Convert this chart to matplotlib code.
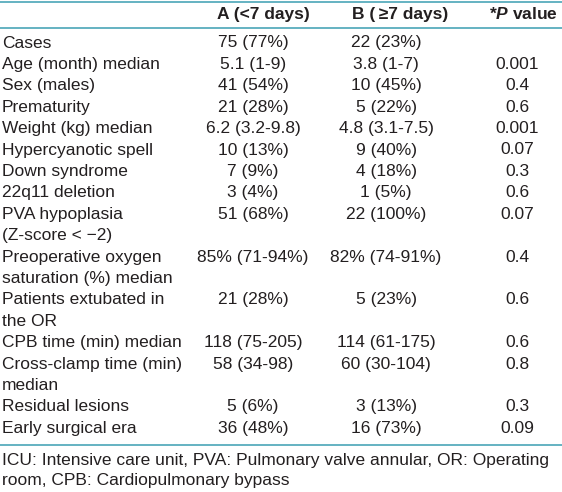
import matplotlib
matplotlib.use("Agg")
import matplotlib.pyplot as plt

plt.rcParams["font.family"] = ["Liberation Sans", "DejaVu Sans"]
plt.rcParams["mathtext.fontset"] = "custom"
plt.rcParams["mathtext.bfit"] = "Liberation Sans:italic:bold"
plt.rcParams["mathtext.rm"] = "Liberation Sans:bold"

# table contents
headers = ["A (<7 days)", "B (\u2009\u22657 days)", r"*$\mathbfit{P}$ value"]
labels = [
    "Cases",
    "Age (month) median",
    "Sex (males)",
    "Prematurity",
    "Weight (kg) median",
    "Hypercyanotic spell",
    "Down syndrome",
    "22q11 deletion",
    "PVA hypoplasia\n(Z-score < \u22122)",
    "Preoperative oxygen\nsaturation (%) median",
    "Patients extubated in\nthe OR",
    "CPB time (min) median",
    "Cross-clamp time (min)\nmedian",
    "Residual lesions",
    "Early surgical era",
]
group_a = ["75 (77%)", "5.1 (1-9)", "41 (54%)", "21 (28%)", "6.2 (3.2-9.8)",
           "10 (13%)", "7 (9%)", "3 (4%)", "51 (68%)", "85% (71-94%)",
           "21 (28%)", "118 (75-205)", "58 (34-98)", "5 (6%)", "36 (48%)"]
group_b = ["22 (23%)", "3.8 (1-7)", "10 (45%)", "5 (22%)", "4.8 (3.1-7.5)",
           "9 (40%)", "4 (18%)", "1 (5%)", "22 (100%)", "82% (74-91%)",
           "5 (23%)", "114 (61-175)", "60 (30-104)", "3 (13%)", "16 (73%)"]
p_values = ["", "0.001", "0.4", "0.6", "0.001", "0.07", "0.3", "0.6", "0.07",
            "0.4", "0.6", "0.6", "0.8", "0.3", "0.09"]
footnote = ["ICU: Intensive care unit, PVA: Pulmonary valve annular, OR: Operating",
            "room, CPB: Cardiopulmonary bypass"]

W, H = 562, 492
fig = plt.figure(figsize=(W / 100, H / 100), dpi=100)
ax = fig.add_axes([0, 0, 1, 1])
ax.set_xlim(0, W)
ax.set_ylim(H, 0)
ax.axis("off")

txt = "#231f20"
rule = "#4aa6b8"
fs = 12.5
head_x = [263, 400, 523]
col_x = [253, 386, 517]
step = 21.4

ax.axhline(1.5, color=rule, lw=1.2)
ax.axhline(28, color=rule, lw=1.2)
for x, h in zip(head_x, headers):
    ax.text(x, 14, h, ha="center", va="center", fontsize=fs, weight="bold", color=txt)

y = 43
for lab, a, b, p in zip(labels, group_a, group_b, p_values):
    lines = lab.split("\n")
    for k, ln in enumerate(lines):
        ax.text(2, y + k * step, ln, ha="left", va="center", fontsize=fs, color=txt)
    for x, v in zip(col_x, [a, b, p]):
        ax.text(x, y, v, ha="center", va="center", fontsize=fs, color=txt)
    y += step * len(lines)

ax.axhline(445, color=rule, lw=1.2)
for k, ln in enumerate(footnote):
    ax.text(2, 460 + k * 20.5, ln, ha="left", va="center", fontsize=fs, color=txt)

fig.savefig("out.png", dpi=100)
